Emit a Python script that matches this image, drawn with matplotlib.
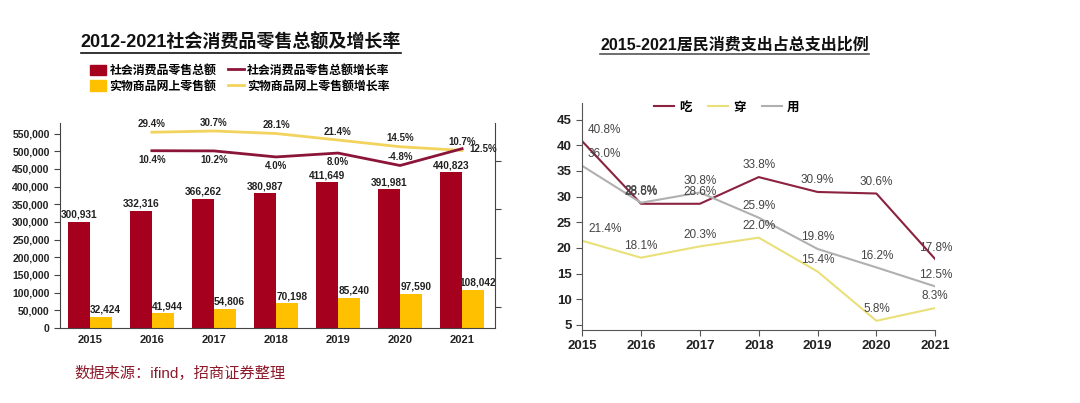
import matplotlib
matplotlib.use("Agg")
import matplotlib.pyplot as plt
from matplotlib.lines import Line2D
from matplotlib.patches import Patch

plt.rcParams['font.family'] = ['Liberation Sans', 'Noto Sans CJK SC', 'DejaVu Sans']

# left chart data
years = ['2015', '2016', '2017', '2018', '2019', '2020', '2021']
retail_total = [300931, 332316, 366262, 380987, 411649, 391981, 440823]
online_retail = [32424, 41944, 54806, 70198, 85240, 97590, 108042]
growth_years = ['2016', '2017', '2018', '2019', '2020', '2021']
retail_growth = [10.4, 10.2, 4.0, 8.0, -4.8, 12.5]
online_growth = [29.4, 30.7, 28.1, 21.4, 14.5, 10.7]

# right chart data
eat = [40.8, 28.6, 28.6, 33.8, 30.9, 30.6, 17.8]
wear = [21.4, 18.1, 20.3, 22.0, 15.4, 5.8, 8.3]
use = [36.0, 28.8, 30.8, 25.9, 19.8, 16.2, 12.5]

RED = '#A5001E'
YEL = '#FFC000'
RED_LINE = '#8B1538'
YEL_LINE = '#F2D35E'

fig = plt.figure(figsize=(10.8, 4.03), dpi=100)

# ---------- left chart ----------
ax = fig.add_axes([0.0556, 0.186, 0.4027, 0.509])
x = list(range(len(years)))
w = 0.35
ax.bar([i - w / 2 for i in x], retail_total, width=w, color=RED, zorder=2)
ax.bar([i + w / 2 for i in x], online_retail, width=w, color=YEL, zorder=2)
for i in x:
    ax.text(i - w / 2, retail_total[i] + 6000, f"{retail_total[i]:,}", ha='center', va='bottom',
            fontsize=7.3, fontweight='bold', color='#222222', zorder=3)
    ax.text(i + w / 2 + 0.08, online_retail[i] + 6000, f"{online_retail[i]:,}", ha='center', va='bottom',
            fontsize=7.3, fontweight='bold', color='#222222', zorder=1)
ax.set_xlim(-0.48, 6.53)
ax.set_ylim(0, 580000)
ax.set_yticks(range(0, 550001, 50000))
ax.set_yticklabels([f"{v:,}" for v in range(0, 550001, 50000)], fontsize=7.5, fontweight='bold', color='#222222')
ax.set_xticks(x)
ax.set_xticklabels(years, fontsize=8, fontweight='bold', color='#222222')
ax.tick_params(axis='x', length=0, pad=5)
ax.tick_params(axis='y', length=4, color='#444444')
ax.spines['top'].set_visible(False)
ax.spines['right'].set_visible(False)
ax.spines['left'].set_color('#444444')
ax.spines['bottom'].set_color('#444444')

ax2 = ax.twinx()
gx = [years.index(g) for g in growth_years]
ax2.plot(gx, online_growth, color=YEL_LINE, lw=2)
ax2.plot(gx, retail_growth, color=RED_LINE, lw=2)
ax2.set_ylim(-172, 39)
ax2.set_yticks([-150, -100, -50, 0])
ax2.set_yticklabels([])
ax2.tick_params(axis='y', length=4, color='#444444')
ax2.spines['top'].set_visible(False)
ax2.spines['left'].set_visible(False)
ax2.spines['bottom'].set_visible(False)
ax2.spines['right'].set_color('#444444')
for i, v in zip(gx, online_growth):
    ax2.text(i, v + 3.5, f"{v}%", ha='center', va='bottom', fontsize=7, fontweight='bold', color='#222222')
for i, v in zip(gx[:-1], retail_growth[:-1]):
    if v < 0:
        ax2.text(i, v + 4, f"{v}%", ha='center', va='bottom', fontsize=7, fontweight='bold', color='#222222')
    else:
        ax2.text(i, v - 4.5, f"{v}%", ha='center', va='top', fontsize=7, fontweight='bold', color='#222222')
ax2.text(gx[-1] + 0.12, retail_growth[-1], f"{retail_growth[-1]}%", ha='left', va='center',
         fontsize=7, fontweight='bold', color='#222222')

handles = [Patch(color=RED), Patch(color=YEL),
           Line2D([], [], color=RED_LINE, lw=2), Line2D([], [], color=YEL_LINE, lw=2)]
labels = ['社会消费品零售总额', '实物商品网上零售额', '社会消费品零售总额增长率', '实物商品网上零售额增长率']
fig.legend(handles, labels, loc='center left', bbox_to_anchor=(0.078, 0.805), ncol=2, frameon=False,
           handlelength=1.3, handleheight=1.0, handletextpad=0.3, columnspacing=1.0, labelspacing=0.25,
           borderpad=0, prop={'weight': 'bold', 'size': 8.6})

t1 = fig.text(0.223, 0.895, '2012-2021社会消费品零售总额及增长率', ha='center', va='center',
              fontsize=13, fontweight='bold', color='#111111')
fig.text(0.069, 0.073, '数据来源：ifind，招商证券整理', ha='left', va='center', fontsize=11, color='#8E1B2B')

# ---------- right chart ----------
bx = fig.add_axes([0.539, 0.181, 0.327, 0.563])
bx.plot(x, eat, color='#8B2240', lw=1.5, label='吃')
bx.plot(x, wear, color='#EAE07A', lw=1.5, label='穿')
bx.plot(x, use, color='#B0B0B0', lw=1.5, label='用')
for series in (eat, wear, use):
    for i, v in enumerate(series):
        ha = 'left' if i == 0 else 'center'
        bx.text(i + (0.1 if i == 0 else 0), v + 1.1, f"{v}%", ha=ha, va='bottom', fontsize=8.5, color='#444444')
bx.set_xlim(0, 6)
bx.set_ylim(4, 48.2)
bx.set_yticks(range(5, 46, 5))
bx.set_xticks(x)
bx.set_xticklabels(years)
bx.tick_params(labelsize=9.5, length=4, color='#555555', labelcolor='#222222')
for lb in bx.get_xticklabels() + bx.get_yticklabels():
    lb.set_fontweight('bold')
bx.spines['top'].set_visible(False)
bx.spines['right'].set_visible(False)
bx.spines['left'].set_color('#555555')
bx.spines['bottom'].set_color('#555555')
bx.legend(loc='center', bbox_to_anchor=(0.41, 0.98), ncol=3, frameon=False, handlelength=1.6,
          handletextpad=0.4, columnspacing=1.3, prop={'weight': 'bold', 'size': 9})

t2 = fig.text(0.68, 0.888, '2015-2021居民消费支出占总支出比例', ha='center', va='center',
              fontsize=11.5, fontweight='bold', color='#111111')

# underline titles
fig.canvas.draw()
r = fig.canvas.get_renderer()
for t, c in ((t1, '#111111'), (t2, '#555555')):
    bb = t.get_window_extent(r).transformed(fig.transFigure.inverted())
    fig.add_artist(Line2D([bb.x0, bb.x1], [bb.y0 - 0.004, bb.y0 - 0.004], color=c, lw=1.2))

fig.savefig('out.png', dpi=100)
